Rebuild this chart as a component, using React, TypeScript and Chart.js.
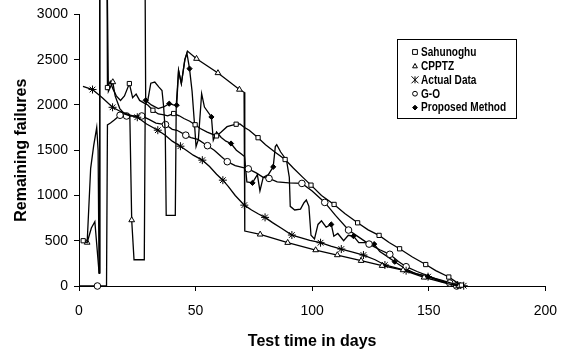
import React, { useEffect, useRef } from "react";
import { Chart, registerables } from "chart.js";

Chart.register(...registerables);

// ---- data: [day, remaining failures] ----
const xTicks = [0, 50, 100, 150, 200];
const yTicks = [0, 500, 1000, 1500, 2000, 2500, 3000];

const seriesNames = ["Sahunoghu", "CPPTZ", "Actual Data", "G-O", "Proposed Method"];

const sahunoghuPts: number[][] = [
  [1.8, 500], [3.5, 480], [5.3, 640], [6.8, 710], [8.6, 150], [8.9, 3600], [12.0, 3600], [12.2, 2192],
  [13.4, 2260], [14.5, 2180], [16, 2100], [17.8, 2050], [19.5, 2100], [21.6, 2236], [23, 2080], [24.5, 2120],
  [26, 2050], [28, 2020], [29.5, 2000], [31.7, 1941], [34, 1900], [36.5, 1890], [38, 1880], [40.6, 1905],
  [43, 1880], [45, 1850], [47.5, 1820], [49.8, 1781], [52, 1740], [55, 1700], [59, 1658], [61, 1700],
  [63.5, 1760], [67.4, 1787], [69, 1790], [71, 1750], [73, 1720], [76.8, 1638], [80, 1560], [84, 1480],
  [88.4, 1397], [92, 1300], [96, 1200], [99.5, 1114], [104, 1000], [109.4, 901], [114, 800], [119.5, 698],
  [124, 620], [128.7, 559], [133, 480], [137.5, 411], [143, 320], [148.7, 237], [153, 170], [158.6, 99],
  [162, 40], [164, 10],
];
const sahunoghuMarks = [1.8, 12.2, 21.6, 31.7, 40.6, 49.8, 59, 67.4, 76.8, 88.4, 99.5, 109.4, 119.5, 128.7, 137.5, 148.7, 158.6, 164];

const cpptzPts: number[][] = [
  [3.5, 480], [5, 1300], [6.3, 1550], [7.6, 1750], [8.2, 1500], [8.6, 140], [8.9, 3600], [12.0, 3600],
  [12.6, 2150], [14.5, 2253], [15.5, 2100], [17.5, 1960], [19.5, 1900], [21.8, 1880], [22.6, 728], [23.6, 290],
  [28.0, 290], [28.4, 2000], [29.5, 2050], [30.8, 2240], [32.5, 2253], [34.2, 2200], [35.6, 2160], [36.3, 1980],
  [37.0, 1700], [37.4, 780], [41.3, 780], [41.7, 1990], [42.7, 2380], [43.9, 2235], [45.4, 2500], [46.5, 2595],
  [50.4, 2511], [59.6, 2353], [68.8, 2170], [70.8, 2140], [71.1, 607], [77.7, 570], [89.5, 478], [101.5, 397],
  [110.8, 342], [121, 279], [130, 224], [139, 176], [148, 95], [158, 25], [163, 0],
];
const cpptzMarks = [3.5, 14.5, 22.6, 50.4, 59.6, 68.8, 77.7, 89.5, 101.5, 110.8, 121, 130, 139, 148, 163];

const actualPts: number[][] = [
  [1.7, 2206], [5.8, 2170], [10, 2080], [14.4, 1974], [18, 1925], [21, 1895], [25, 1864], [29, 1790],
  [33.8, 1721], [37, 1665], [40, 1600], [43.5, 1544], [46, 1500], [49, 1445], [52.9, 1390], [56, 1320],
  [59, 1235], [61.7, 1169], [64, 1100], [67, 1000], [70.9, 893], [74, 840], [77, 795], [79.8, 758],
  [83, 700], [87, 635], [91.3, 563], [95, 535], [99, 505], [103.6, 478], [108, 440], [112.5, 408],
  [117, 378], [122, 342], [127, 290], [131.2, 232], [136, 200], [140.3, 169], [145, 135], [149.7, 103],
  [155, 68], [160, 30], [162.4, 11], [165, 3],
];
const actualMarks = [5.8, 14.4, 25, 33.8, 43.5, 52.9, 61.7, 70.9, 79.8, 91.3, 103.6, 112.5, 122, 131.2, 140.3, 149.7, 162.4, 165];

const goPts: number[][] = [
  [0, 0], [7.9, 0], [11.8, 0], [12.2, 1780], [13.5, 1800], [15, 1830], [17.6, 1886], [20.4, 1878],
  [23, 1880], [26.9, 1878], [30, 1840], [33, 1800], [37.1, 1783], [40, 1730], [42, 1720], [45.8, 1666],
  [48, 1640], [51, 1620], [55.1, 1550], [58, 1500], [61, 1430], [63.6, 1373], [67, 1330], [70, 1310],
  [72.6, 1294], [76, 1250], [79, 1200], [81.5, 1188], [85, 1150], [90, 1140], [95.6, 1133], [100, 1050],
  [105.4, 923], [110, 780], [115.6, 618], [120, 540], [124.4, 463], [129, 400], [133.3, 350], [137, 270],
  [140.3, 213], [145, 160], [150, 110], [155, 60], [159, 33], [162, 0],
];
const goMarks = [7.9, 17.6, 20.4, 26.9, 37.1, 45.8, 55.1, 63.6, 72.6, 81.5, 95.6, 105.4, 115.6, 124.4, 133.3, 140.3, 159, 162];

const proposedPts: number[][] = [
  [28.3, 3600], [28.6, 2051], [31, 2000], [34, 1960], [36.5, 1980], [38.7, 2014], [40.5, 2000], [41.9, 1997],
  [42.7, 2380], [43.9, 2235], [45.4, 2500], [46.3, 2570], [47.4, 2401], [48.5, 2150], [49.5, 1800], [50.2, 1540],
  [51.2, 1620], [52.6, 2125], [53.8, 1977], [56.8, 1867], [57.6, 1610], [59, 1700], [61, 1640], [63, 1600],
  [65.2, 1574], [67.5, 1500], [69.5, 1460], [71, 1430], [72, 1150], [74.4, 1139], [76.5, 1230], [77.6, 1050],
  [79, 1200], [81.2, 1230], [83.3, 1316], [84.2, 1540], [84.8, 1560], [86.5, 1480], [89, 1390], [90.2, 1200],
  [90.6, 880], [92.5, 840], [95, 850], [96.5, 920], [97.5, 950], [98.6, 880], [99.5, 560], [101, 520],
  [102.5, 680], [104, 720], [106, 650], [108.2, 680], [109.3, 550], [111, 580], [113.5, 500], [115.5, 560],
  [117.7, 551], [120, 480], [122.5, 480], [124.6, 470], [126.6, 463], [129, 380], [132, 330], [135.4, 268],
  [140, 190], [145, 130], [149.7, 103], [155, 50], [160, 20], [163.5, 0],
];
const proposedMarks = [28.6, 38.7, 41.9, 47.4, 56.8, 65.2, 74.4, 83.3, 108.2, 117.7, 126.6, 135.4, 149.7, 163.5];

const pointStyles = ["rect", "triangle", "star", "circle", "rectRot"];
const pointSizes = [3, 3.3, 4, 3.3, 2.6];
const pointFills = ["#ffffff", "#ffffff", "#000000", "#ffffff", "#000000"];

const FONT = "'Liberation Sans', Arial, sans-serif";

function drawMarker(ctx: CanvasRenderingContext2D, style: string, x: number, y: number, r: number, fill: string) {
  ctx.save();
  ctx.strokeStyle = "#000";
  ctx.fillStyle = fill;
  ctx.lineWidth = 1;
  ctx.beginPath();
  if (style === "rect") {
    ctx.rect(x - r, y - r, 2 * r, 2 * r);
    ctx.fill();
    ctx.stroke();
  } else if (style === "triangle") {
    ctx.moveTo(x, y - r);
    ctx.lineTo(x + r, y + r * 0.8);
    ctx.lineTo(x - r, y + r * 0.8);
    ctx.closePath();
    ctx.fill();
    ctx.stroke();
  } else if (style === "circle") {
    ctx.arc(x, y, r, 0, Math.PI * 2);
    ctx.fill();
    ctx.stroke();
  } else if (style === "rectRot") {
    ctx.moveTo(x, y - r);
    ctx.lineTo(x + r, y);
    ctx.lineTo(x, y + r);
    ctx.lineTo(x - r, y);
    ctx.closePath();
    ctx.fill();
    ctx.stroke();
  } else {
    ctx.moveTo(x - r, y - r); ctx.lineTo(x + r, y + r);
    ctx.moveTo(x + r, y - r); ctx.lineTo(x - r, y + r);
    ctx.moveTo(x, y - r); ctx.lineTo(x, y + r);
    ctx.stroke();
  }
  ctx.restore();
}

const legendPlugin = {
  id: "boxLegend",
  afterDraw(chart: any) {
    const ctx: CanvasRenderingContext2D = chart.ctx;
    const bx = 397.5, by = 39.5, bw = 119, bh = 79;
    ctx.save();
    ctx.fillStyle = "#fff";
    ctx.fillRect(bx, by, bw, bh);
    ctx.strokeStyle = "#000";
    ctx.lineWidth = 1;
    ctx.strokeRect(bx, by, bw, bh);
    ctx.font = `bold 12px ${FONT}`;
    ctx.fillStyle = "#000";
    ctx.textBaseline = "middle";
    ctx.textAlign = "left";
    chart.data.datasets.forEach((ds: any, i: number) => {
      const y = 52 + i * 13.9;
      drawMarker(ctx, pointStyles[i], 415, y, i === 2 ? 3.5 : 2.4, pointFills[i]);
      const w = ctx.measureText(ds.label).width;
      ctx.fillText(ds.label, 421, y + 0.5, w * 0.84);
    });
    ctx.restore();
  },
};

function makeDataset(i: number, pts: number[][], marks: number[]) {
  return {
    label: seriesNames[i],
    data: pts.map((p) => ({ x: p[0], y: p[1] })),
    borderColor: "#000",
    borderWidth: 1.3,
    backgroundColor: pointFills[i],
    pointStyle: pointStyles[i],
    pointBorderColor: "#000",
    pointBorderWidth: 1,
    pointBackgroundColor: pointFills[i],
    pointRadius: pts.map((p) => (marks.includes(p[0]) ? pointSizes[i] : 0)),
    pointHoverRadius: 0,
    tension: 0,
    fill: false,
    clip: false,
  };
}

export default function App() {
  const ref = useRef<HTMLCanvasElement>(null);
  useEffect(() => {
    if (!ref.current) return;
    const tickFont = { family: FONT, size: 14 };
    const titleFont = { family: FONT, size: 16, weight: "bold" as const };
    const chart = new Chart(ref.current, {
      type: "line",
      data: {
        datasets: [
          makeDataset(0, sahunoghuPts, sahunoghuMarks),
          makeDataset(1, cpptzPts, cpptzMarks),
          makeDataset(2, actualPts, actualMarks),
          makeDataset(3, goPts, goMarks),
          makeDataset(4, proposedPts, proposedMarks),
        ] as any,
      },
      options: {
        responsive: false,
        animation: false,
        devicePixelRatio: 1,
        layout: { padding: { left: 0, top: 14, right: 17, bottom: 0 } },
        plugins: { legend: { display: false }, tooltip: { enabled: false } },
        scales: {
          x: {
            type: "linear",
            min: xTicks[0],
            max: xTicks[xTicks.length - 1],
            afterBuildTicks: (s: any) => { s.ticks = xTicks.map((v) => ({ value: v })); },
            afterFit: (s: any) => { s.height = 71; },
            ticks: { color: "#000", font: tickFont, padding: 12, maxRotation: 0, callback: (v: any) => String(v) },
            grid: { display: true, drawOnChartArea: false, drawTicks: true, tickLength: 5, color: "#000" },
            border: { display: true, color: "#000", width: 1 },
            title: { display: true, text: "Test time in days", color: "#000", font: titleFont, padding: { top: 0, bottom: 6 } },
          },
          y: {
            type: "linear",
            min: yTicks[0],
            max: yTicks[yTicks.length - 1],
            afterBuildTicks: (s: any) => { s.ticks = yTicks.map((v) => ({ value: v })); },
            afterFit: (s: any) => { s.width = 79; },
            ticks: { color: "#000", font: tickFont, padding: 6, callback: (v: any) => String(v) },
            grid: { display: true, drawOnChartArea: false, drawTicks: true, tickLength: 5, color: "#000" },
            border: { display: true, color: "#000", width: 1 },
            title: { display: true, text: "Remaining failures", color: "#000", font: titleFont, padding: { top: 12, bottom: 0 } },
          },
        },
      } as any,
      plugins: [legendPlugin],
    });
    return () => chart.destroy();
  }, []);
  return (
    <div style={{ position: "absolute", left: 0, top: 0, width: 569, height: 357, background: "#fff" }}>
      <canvas ref={ref} width={569} height={357} style={{ display: "block", width: 569, height: 357 }} />
    </div>
  );
}
